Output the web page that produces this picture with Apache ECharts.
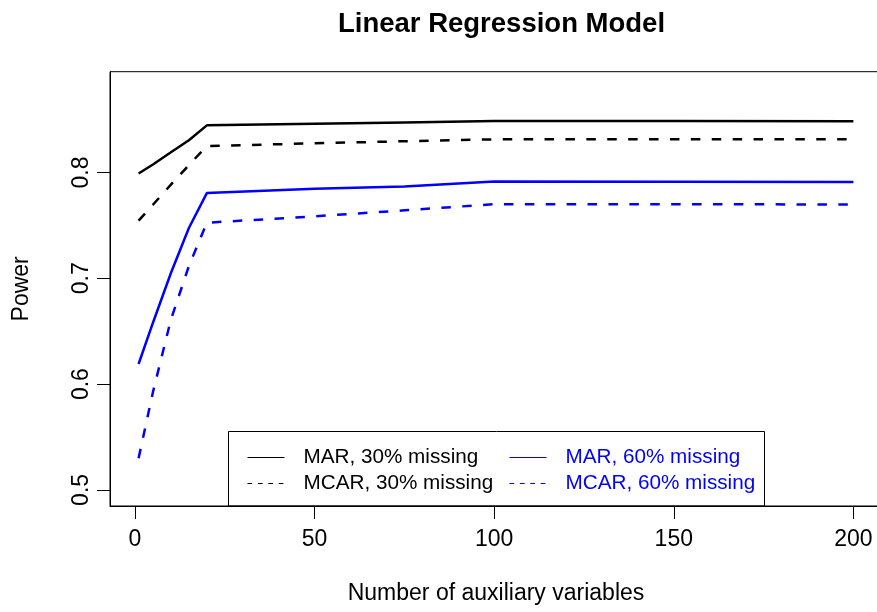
<!DOCTYPE html>
<html>
<head>
<meta charset="utf-8">
<script src="https://cdn.jsdelivr.net/npm/echarts@6/dist/echarts.min.js"></script>
<style>
html,body{margin:0;padding:0;background:#fff;}
#chart{width:877px;height:612px;}
</style>
</head>
<body>
<div id="chart"></div>
<script>
const titleText = 'Linear Regression Model';
const xName = 'Number of auxiliary variables';
const yName = 'Power';
const xValues = [1, 5, 10, 15, 20, 50, 75, 100, 150, 200];
const mar30  = [0.799, 0.8075, 0.819, 0.8305, 0.8445, 0.846, 0.8472, 0.8485, 0.8485, 0.8483];
const mcar30 = [0.7545, 0.7695, 0.7885, 0.807, 0.825, 0.8275, 0.8295, 0.8313, 0.8313, 0.8313];
const mar60  = [0.619, 0.658, 0.705, 0.7475, 0.7805, 0.7845, 0.7867, 0.7915, 0.7913, 0.791];
const mcar60 = [0.530, 0.5925, 0.661, 0.7115, 0.7525, 0.7585, 0.7642, 0.770, 0.770, 0.7697];
const xTicks = [0, 50, 100, 150, 200];
const yTicks = [0.5, 0.6, 0.7, 0.8];
const seriesNames = ['MAR, 30% missing', 'MCAR, 30% missing', 'MAR, 60% missing', 'MCAR, 60% missing'];

const FONT = 'Liberation Sans, Arial, Helvetica, sans-serif';
const BLUE = '#0000FF';
const chart = echarts.init(document.getElementById('chart'));
const pairs = arr => xValues.map((x, i) => [x, arr[i]]);
const dashPlot = [9.5, 11.4];
const dashLeg = [4.7, 5.7];

function mkSeries(name, arr, color, dashed) {
  return {
    name: name, type: 'line', data: pairs(arr), symbol: 'none', smooth: false,
    lineStyle: { color: color, width: 2.5, type: dashed ? dashPlot : 'solid' },
    itemStyle: { color: color }, animation: false, silent: true
  };
}

const legendItem = (name, color, dashed, textColor) => ({
  name: name,
  itemStyle: { opacity: 0, borderWidth: 0 },
  lineStyle: { color: color, width: 1, opacity: 1, type: dashed ? dashLeg : 'solid' },
  textStyle: { color: textColor }
});

function mkLegend(left, items) {
  return {
    show: true, orient: 'vertical', left: left, top: 447, padding: 0,
    itemWidth: 37, itemHeight: 14, itemGap: 5,
    selectedMode: false,
    textStyle: { fontFamily: FONT, fontSize: 20.7, lineHeight: 21, padding: [0, 0, 0, 14] },
    data: items
  };
}

chart.setOption({
  backgroundColor: '#fff',
  animation: false,
  title: {
    text: titleText, left: 333, top: 5,
    textStyle: { fontFamily: FONT, fontSize: 27.5, fontWeight: 'bold', color: '#000' }
  },
  grid: { left: 110, width: 772, top: 71.7, bottom: 106, show: true, borderColor: '#000', borderWidth: 1,
    backgroundColor: 'transparent', outerBoundsMode: 'none', containLabel: false },
  xAxis: {
    type: 'value', min: -6.96, max: 207.96,
    name: xName, nameLocation: 'middle', nameGap: 76,
    nameTextStyle: { fontFamily: FONT, fontSize: 23, color: '#000' },
    axisLine: { show: true, onZero: false, lineStyle: { color: '#000', width: 1 } },
    splitLine: { show: false },
    axisTick: { show: true, inside: false, length: 13, customValues: xTicks, lineStyle: { color: '#000', width: 1 } },
    axisLabel: { customValues: xTicks, margin: 22, fontFamily: FONT, fontSize: 23, color: '#000' }
  },
  yAxis: {
    type: 'value', min: 0.4848, max: 0.8952,
    name: yName, nameLocation: 'middle', nameGap: 77, nameRotate: 90,
    nameTextStyle: { fontFamily: FONT, fontSize: 23, color: '#000' },
    axisLine: { show: true, onZero: false, lineStyle: { color: '#000', width: 1 } },
    splitLine: { show: false },
    axisTick: { show: true, inside: false, length: 13, customValues: yTicks, lineStyle: { color: '#000', width: 1 } },
    axisLabel: { customValues: yTicks, rotate: 90, margin: 17, fontFamily: FONT, fontSize: 23, color: '#000',
      formatter: v => v.toFixed(1) }
  },
  legend: [
    mkLegend(247, [legendItem(seriesNames[0], '#000', false, '#000'), legendItem(seriesNames[1], '#000', true, '#000')]),
    mkLegend(509, [legendItem(seriesNames[2], BLUE, false, BLUE), legendItem(seriesNames[3], BLUE, true, BLUE)])
  ],
  graphic: [
    { type: 'rect', shape: { x: 228.5, y: 431.5, width: 536, height: 74.5 }, style: { fill: 'none', stroke: '#000', lineWidth: 1 }, silent: true, z: 10 }
  ],
  series: [
    mkSeries(seriesNames[0], mar30, '#000', false),
    mkSeries(seriesNames[1], mcar30, '#000', true),
    mkSeries(seriesNames[2], mar60, BLUE, false),
    mkSeries(seriesNames[3], mcar60, BLUE, true)
  ]
});
</script>
</body>
</html>
